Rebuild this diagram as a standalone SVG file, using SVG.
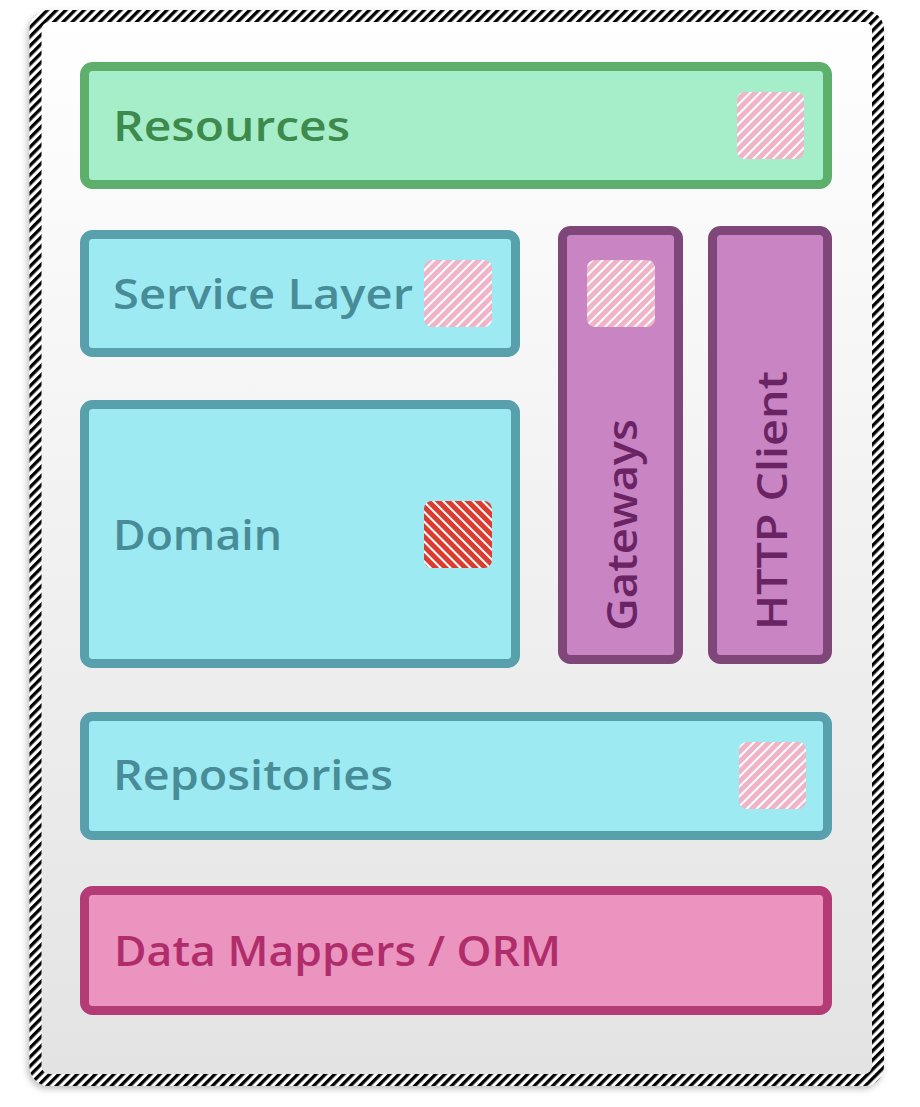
<svg xmlns="http://www.w3.org/2000/svg" width="920" height="1107" viewBox="0 0 920 1107">
<style>
.lbl{font-family:"Open Sans","Noto Sans","Liberation Sans",sans-serif;font-weight:600;font-size:41px}
.green rect.box{fill:#a6eec9;stroke:#5daf6b;stroke-width:9}
.green text{fill:#3e8a4c}
.cyan rect.box{fill:#9eeaf2;stroke:#58a0ab;stroke-width:9}
.cyan text{fill:#478c96}
.purple rect.box{fill:#c884c3;stroke:#7f4679;stroke-width:9}
.purple text{fill:#6a2464}
.pink rect.box{fill:#eb94bf;stroke:#b43c76;stroke-width:9}
.pink text{fill:#b02d6b}
.hatch{fill:url(#hp)}
.hatchred{fill:url(#hr)}
</style>
<defs>
<linearGradient id="bg" x1="0" y1="0" x2="0" y2="1">
<stop offset="0" stop-color="#ffffff"/>
<stop offset="1" stop-color="#e3e3e3"/>
</linearGradient>
<pattern id="border" patternUnits="userSpaceOnUse" width="6.5" height="6.5" patternTransform="rotate(45)">
<rect width="6.5" height="6.5" fill="#ffffff"/>
<rect width="3.3" height="6.5" fill="#000000"/>
</pattern>
<pattern id="hp" patternUnits="userSpaceOnUse" width="7" height="7" patternTransform="rotate(45)">
<rect width="7" height="7" fill="#f0b4c8"/>
<rect width="2" height="7" fill="#ffffff"/>
</pattern>
<pattern id="hr" patternUnits="userSpaceOnUse" width="7" height="7" patternTransform="rotate(-45)">
<rect width="7" height="7" fill="#dc3b30"/>
<rect width="2" height="7" fill="#ffffff"/>
</pattern>
<filter id="sh" x="-5%" y="-5%" width="110%" height="110%">
<feDropShadow dx="-2" dy="3" stdDeviation="3" flood-color="#000" flood-opacity="0.25"/>
</filter>
</defs>

<g id="frame">
<rect x="35.5" y="16" width="842.5" height="1064" rx="14" fill="url(#bg)" stroke="url(#border)" stroke-width="12" filter="url(#sh)"/>
</g>

<g id="resources" class="green">
<rect class="box" x="84.5" y="66.5" width="743" height="118" rx="8"/>
<rect class="hatch" x="737" y="92" width="67" height="67" rx="8"/>
<text class="lbl" x="113" y="141" textLength="237" lengthAdjust="spacingAndGlyphs">Resources</text>
</g>

<g id="service-layer" class="cyan">
<rect class="box" x="84.5" y="234.5" width="431" height="118" rx="8"/>
<rect class="hatch" x="424" y="260" width="68" height="67" rx="8"/>
<text class="lbl" x="113" y="309" textLength="300" lengthAdjust="spacingAndGlyphs">Service Layer</text>
</g>

<g id="domain" class="cyan">
<rect class="box" x="84.5" y="404.5" width="431" height="259" rx="8"/>
<rect class="hatchred" x="424" y="501" width="68" height="67" rx="8"/>
<text class="lbl" x="113" y="550" textLength="169" lengthAdjust="spacingAndGlyphs">Domain</text>
</g>

<g id="gateways" class="purple">
<rect class="box" x="562.5" y="230.5" width="116" height="429" rx="8"/>
<rect class="hatch" x="587" y="260" width="68" height="67" rx="8"/>
<text class="lbl" transform="translate(637,631) rotate(-90)" textLength="212" lengthAdjust="spacingAndGlyphs">Gateways</text>
</g>

<g id="http-client" class="purple">
<rect class="box" x="712.5" y="230.5" width="115" height="429" rx="8"/>
<text class="lbl" transform="translate(787,630) rotate(-90)" textLength="259" lengthAdjust="spacingAndGlyphs">HTTP Client</text>
</g>

<g id="repositories" class="cyan">
<rect class="box" x="84.5" y="716.5" width="743" height="119" rx="8"/>
<rect class="hatch" x="739" y="742" width="67" height="67" rx="8"/>
<text class="lbl" x="113" y="790" textLength="280" lengthAdjust="spacingAndGlyphs">Repositories</text>
</g>

<g id="data-mappers" class="pink">
<rect class="box" x="84.5" y="890.5" width="743" height="120" rx="8"/>
<text class="lbl" x="114" y="966" textLength="447" lengthAdjust="spacingAndGlyphs">Data Mappers / ORM</text>
</g>

<g id="connectors"></g>
</svg>
